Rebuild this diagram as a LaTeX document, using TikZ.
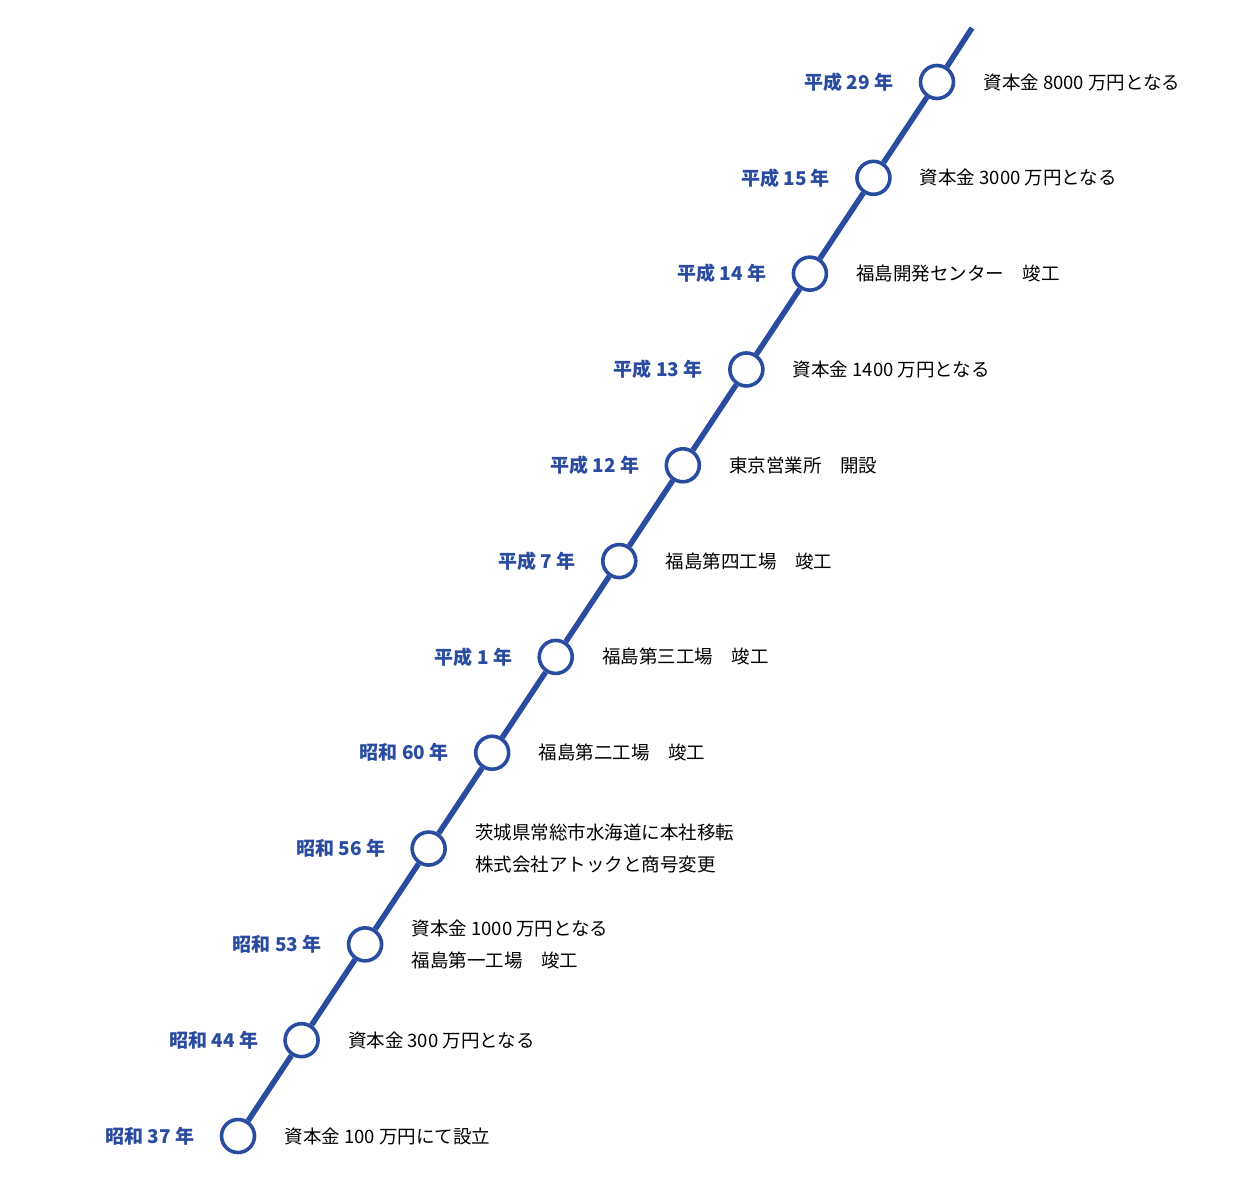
\documentclass[tikz,border=0pt]{standalone}
\usepackage{fontspec}
\setmainfont{Noto Sans CJK JP}
\definecolor{tlblue}{RGB}{42,76,160}
\begin{document}
\begin{tikzpicture}[x=1pt,y=-1pt,
  dot/.style={circle,draw=tlblue,line width=3.6pt,fill=white,minimum size=33pt,inner sep=0pt},
  track/.style={draw=tlblue,line width=5.5pt},
  year/.style={anchor=east,text=tlblue,font=\fontsize{19}{22}\selectfont\bfseries},
  event/.style={anchor=west,text=black,font=\fontsize{18.5}{32}\selectfont,align=left}]
\useasboundingbox (0,0) rectangle (1240,1200);
\coordinate (top) at (972,28);
\foreach \i/\y/\t [count=\k] in {
  1/平成 29 年/資本金 8000 万円となる,
  2/平成 15 年/資本金 3000 万円となる,
  3/平成 14 年/福島開発センター　竣工,
  4/平成 13 年/資本金 1400 万円となる,
  5/平成 12 年/東京営業所　開設,
  6/平成 7 年/福島第四工場　竣工,
  7/平成 1 年/福島第三工場　竣工,
  8/昭和 60 年/福島第二工場　竣工,
  9/昭和 56 年/{茨城県常総市水海道に本社移転\\株式会社アトックと商号変更},
  10/昭和 53 年/{資本金 1000 万円となる\\福島第一工場　竣工},
  11/昭和 44 年/資本金 300 万円となる,
  12/昭和 37 年/資本金 100 万円にて設立}
{
  \pgfmathsetmacro{\cx}{937-(\i-1)*63.545}
  \pgfmathsetmacro{\cy}{82+(\i-1)*95.818}
  \node[dot] (c\i) at (\cx,\cy) {};
  \node[year] (y\i) at (\cx-40,\cy) {\y};
  \node[event] (e\i) at (\cx+43,\cy) {\t};
}
\draw[track] (top) -- (c1);
\foreach \a/\b in {1/2,2/3,3/4,4/5,5/6,6/7,7/8,8/9,9/10,10/11,11/12}
  \draw[track] (c\a) -- (c\b);
\end{tikzpicture}
\end{document}
